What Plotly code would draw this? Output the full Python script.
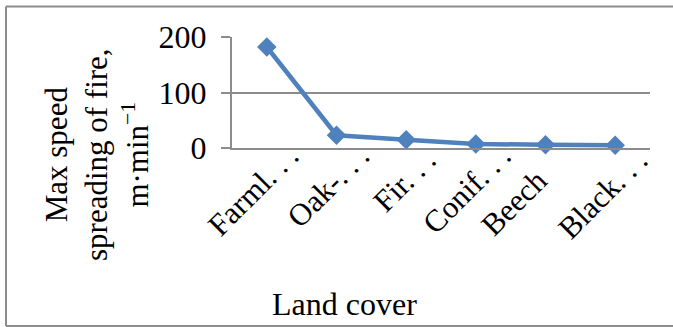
import plotly.graph_objects as go

# Land-cover categories (labels shown truncated, as in the source chart)
categories = ["Farml. . .", "Oak-. . .", "Fir. . .", "Conif. . .", "Beech", "Black. . ."]
# Maximum fire spreading speed, m·min⁻¹
max_speed = [182, 23, 15, 7, 6, 5]
y_ticks = [0, 100, 200]

# Pixel nudges of each rotated category label (x right, y up)
label_dx = [2, 3, 0, 5, -28, 2]
label_dy = [-4, -4, -8, -4, -28, -8]

W, H = 673, 327
L, R, T, B = 232, 23, 37, 179
plot_w = W - L - R
plot_h = H - T - B

def px_x(px):
    return (px - L) / plot_w

def px_y(py):
    return (H - B - py) / plot_h

FONT = "Liberation Serif"
BLUE = "#4F81BD"
GREY = "#8C8C8C"

fig = go.Figure()
fig.add_trace(go.Scatter(
    x=categories,
    y=max_speed,
    mode="lines+markers",
    line=dict(color=BLUE, width=4.5),
    marker=dict(symbol="diamond", size=15, color=BLUE),
    showlegend=False,
    cliponaxis=False,
))

fig.update_layout(
    width=W, height=H, autosize=False,
    margin=dict(l=L, r=R, t=T, b=B, pad=0),
    paper_bgcolor="white", plot_bgcolor="white",
    font=dict(family=FONT, size=31, color="black"),
    xaxis=dict(
        type="category",
        categoryorder="array", categoryarray=categories,
        range=[-0.5, len(categories) - 0.5],
        autorange=False,
        showgrid=False,
        showline=True, linecolor=GREY, linewidth=2,
        ticks="",
        showticklabels=False,
        zeroline=False,
    ),
    yaxis=dict(
        range=[0, 200],
        autorange=False,
        tickvals=y_ticks,
        ticktext=[str(v) for v in y_ticks],
        showgrid=True, gridcolor=GREY, gridwidth=2,
        showline=True, linecolor=GREY, linewidth=2,
        ticks="outside", ticklen=9, tickcolor=GREY, tickwidth=2,
        ticklabelstandoff=8,
        tickfont=dict(family=FONT, size=32, color="black"),
        zeroline=False,
    ),
)

# Rotated category labels hanging below the axis
for cat, dx, dy in zip(categories, label_dx, label_dy):
    fig.add_annotation(
        text=cat,
        xref="x", yref="y",
        x=cat, y=0,
        xanchor="right", yanchor="top",
        xshift=38 + dx, yshift=15 + dy,
        textangle=-45,
        showarrow=False,
        borderpad=0,
        font=dict(family=FONT, size=31, color="black"),
    )

# Axis titles
fig.add_annotation(
    text="Max speed<br>spreading of fire,<br>m·min<sup>−1</sup>",
    textangle=-90,
    xref="paper", yref="paper",
    x=px_x(97), y=px_y(155),
    xanchor="center", yanchor="middle",
    showarrow=False,
    font=dict(family=FONT, size=31, color="black"),
)
fig.add_annotation(
    text="Land cover",
    xref="paper", yref="paper",
    x=px_x(344.5), y=px_y(304),
    xanchor="center", yanchor="middle",
    showarrow=False,
    font=dict(family=FONT, size=32, color="black"),
)

# Chart-area frame (left, top, bottom edges)
frame = dict(color=GREY, width=2)
fig.add_shape(type="line", xref="paper", yref="paper",
              x0=px_x(6), x1=px_x(6), y0=px_y(326), y1=px_y(6.5), line=frame)
fig.add_shape(type="line", xref="paper", yref="paper",
              x0=px_x(6), x1=px_x(673), y0=px_y(6.5), y1=px_y(6.5), line=frame)
fig.add_shape(type="line", xref="paper", yref="paper",
              x0=px_x(6), x1=px_x(673), y0=px_y(326), y1=px_y(326), line=frame)

fig.write_html("out.html")
